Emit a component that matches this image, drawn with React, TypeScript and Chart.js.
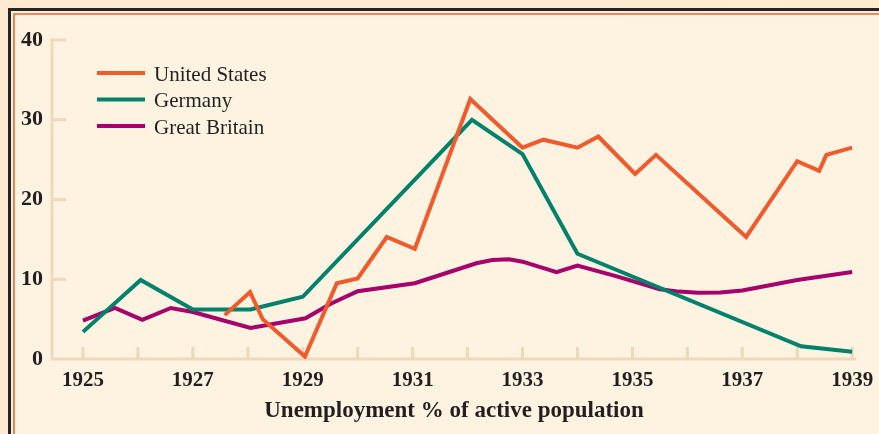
import React, { useEffect, useRef } from 'react';
import { Chart, registerables } from 'chart.js';

Chart.register(...registerables);

// ---- data ----
const usYears = [1927.58, 1928.04, 1928.27, 1929.04, 1929.62, 1930.0, 1930.53, 1931.04, 1932.05, 1933.0, 1933.38, 1934.0, 1934.38, 1935.05, 1935.43, 1937.07, 1938.0, 1938.4, 1938.53, 1939.0];
const usValues = [5.5, 8.4, 5.0, 0.3, 9.5, 10.1, 15.3, 13.8, 32.6, 26.5, 27.5, 26.5, 27.9, 23.2, 25.6, 15.3, 24.8, 23.6, 25.6, 26.5];

const deYears = [1925, 1926.05, 1927, 1928.05, 1929, 1932.08, 1933.0, 1934.0, 1938.07, 1939.0];
const deValues = [3.4, 9.9, 6.2, 6.2, 7.8, 30.0, 25.7, 13.2, 1.6, 0.9];

const gbYears = [1925, 1925.58, 1926.08, 1926.6, 1927, 1928.05, 1929.05, 1929.5, 1930.0, 1931.04, 1932.16, 1932.45, 1932.75, 1933.0, 1933.62, 1934.0, 1934.7, 1935.5, 1935.85, 1936.2, 1936.6, 1937.0, 1937.5, 1938.0, 1939.0];
const gbValues = [4.8, 6.4, 4.9, 6.4, 5.9, 3.9, 5.1, 6.9, 8.5, 9.5, 12.0, 12.4, 12.5, 12.2, 10.9, 11.7, 10.4, 8.75, 8.45, 8.3, 8.35, 8.6, 9.25, 9.9, 10.9];

const seriesNames = ['United States', 'Germany', 'Great Britain'];
const seriesColors = ['#f15a2b', '#00816b', '#a5006b'];

const yTickValues = [0, 10, 20, 30, 40];
const xTickYears = [1925, 1926, 1927, 1928, 1929, 1930, 1931, 1932, 1933, 1934, 1935, 1936, 1937, 1938, 1939];
const xLabelYears = [1925, 1927, 1929, 1931, 1933, 1935, 1937, 1939];
const xAxisTitle = 'Unemployment % of active population';

const AXIS_COLOR = '#efd8bc';
const TEXT_COLOR = '#231f20';
const FONT = "'Liberation Serif', 'DejaVu Serif', serif";

const toPoints = (xs: number[], ys: number[]) => xs.map((x, i) => ({ x, y: ys[i] }));

const axesPlugin = {
  id: 'customAxes',
  beforeDatasetsDraw(chart: any) {
    const { ctx, chartArea, scales } = chart;
    const xs = scales.x;
    const ys = scales.y;
    const left = chartArea.left;
    const bottom = ys.getPixelForValue(0);
    ctx.save();
    ctx.strokeStyle = AXIS_COLOR;
    ctx.lineWidth = 3;
    ctx.lineCap = 'butt';
    ctx.beginPath();
    ctx.moveTo(left, ys.getPixelForValue(40) - 1.5);
    ctx.lineTo(left, bottom + 1.5);
    ctx.moveTo(left - 1.5, bottom);
    ctx.lineTo(chartArea.right, bottom);
    yTickValues.forEach((v) => {
      const p = ys.getPixelForValue(v);
      ctx.moveTo(left, p);
      ctx.lineTo(left + 14, p);
    });
    xTickYears.forEach((v) => {
      const p = xs.getPixelForValue(v);
      ctx.moveTo(p, bottom);
      ctx.lineTo(p, bottom - 12);
    });
    ctx.stroke();
    ctx.restore();
  },
};

const legendPlugin = {
  id: 'customLegend',
  afterDatasetsDraw(chart: any) {
    const { ctx } = chart;
    const rows = [73, 99.5, 126];
    ctx.save();
    chart.data.datasets.forEach((ds: any, i: number) => {
      const y = rows[i];
      ctx.strokeStyle = ds.borderColor;
      ctx.lineWidth = 4;
      ctx.beginPath();
      ctx.moveTo(97, y);
      ctx.lineTo(145, y);
      ctx.stroke();
      ctx.fillStyle = TEXT_COLOR;
      ctx.font = `normal 21px ${FONT}`;
      ctx.textAlign = 'left';
      ctx.textBaseline = 'alphabetic';
      ctx.fillText(ds.label, 154, y + 7.5);
    });
    ctx.restore();
  },
};

export default function App() {
  const canvasRef = useRef<HTMLCanvasElement | null>(null);

  useEffect(() => {
    if (!canvasRef.current) return;
    const series = [
      toPoints(usYears, usValues),
      toPoints(deYears, deValues),
      toPoints(gbYears, gbValues),
    ];
    const chart = new Chart(canvasRef.current, {
      type: 'line',
      data: {
        datasets: series.map((data, i) => ({
          label: seriesNames[i],
          data,
          borderColor: seriesColors[i],
          backgroundColor: seriesColors[i],
          borderWidth: 4,
          pointRadius: 0,
          tension: 0,
          fill: false,
          borderJoinStyle: 'miter' as const,
        })),
      },
      options: {
        responsive: false,
        animation: false,
        devicePixelRatio: 1,
        layout: { padding: { top: 40, right: 23, bottom: 0, left: 0 } },
        plugins: { legend: { display: false }, tooltip: { enabled: false } },
        scales: {
          x: {
            type: 'linear',
            min: 1924.436,
            max: 1939.07,
            grid: { display: false },
            border: { display: false },
            afterBuildTicks: (scale: any) => {
              scale.ticks = xTickYears.map((v) => ({ value: v }));
            },
            afterFit: (scale: any) => {
              scale.height = 75;
            },
            ticks: {
              autoSkip: false,
              maxRotation: 0,
              minRotation: 0,
              padding: 0.5,
              color: TEXT_COLOR,
              font: { family: FONT, size: 21, weight: 'bold' },
              callback: (v: any) => (xLabelYears.includes(Number(v)) ? String(v) : ''),
            },
            title: {
              display: true,
              text: xAxisTitle,
              color: TEXT_COLOR,
              font: { family: FONT, size: 23, weight: 'bold' },
              padding: { top: 0, bottom: 9 },
            },
          },
          y: {
            min: 0,
            max: 40,
            grid: { display: false },
            border: { display: false },
            afterBuildTicks: (scale: any) => {
              scale.ticks = yTickValues.map((v) => ({ value: v }));
            },
            afterFit: (scale: any) => {
              scale.width = 52;
            },
            ticks: {
              padding: 1,
              color: TEXT_COLOR,
              font: { family: FONT, size: 22, weight: 'bold' },
            },
          },
        },
      },
      plugins: [axesPlugin, legendPlugin],
    } as any);
    return () => chart.destroy();
  }, []);

  return (
    <div style={{ position: 'fixed', left: 0, top: 0, width: 879, height: 434, overflow: 'hidden', background: 'linear-gradient(90deg, #fdead0, #fdecd2 60%, #feedcc)' }}>
      <div style={{ position: 'absolute', left: 8, top: 8, width: 1000, height: 1000, borderLeft: '3px solid #262322', borderTop: '3px solid #262322', background: '#fef2e1' }} />
      <div style={{ position: 'absolute', left: 13, top: 13, width: 1000, height: 1000, borderLeft: '2px solid #f4845c', borderTop: '2px solid #f4845c' }} />
      <canvas ref={canvasRef} width={879} height={434} style={{ position: 'absolute', left: 0, top: 0, width: 879, height: 434 }} />
    </div>
  );
}
